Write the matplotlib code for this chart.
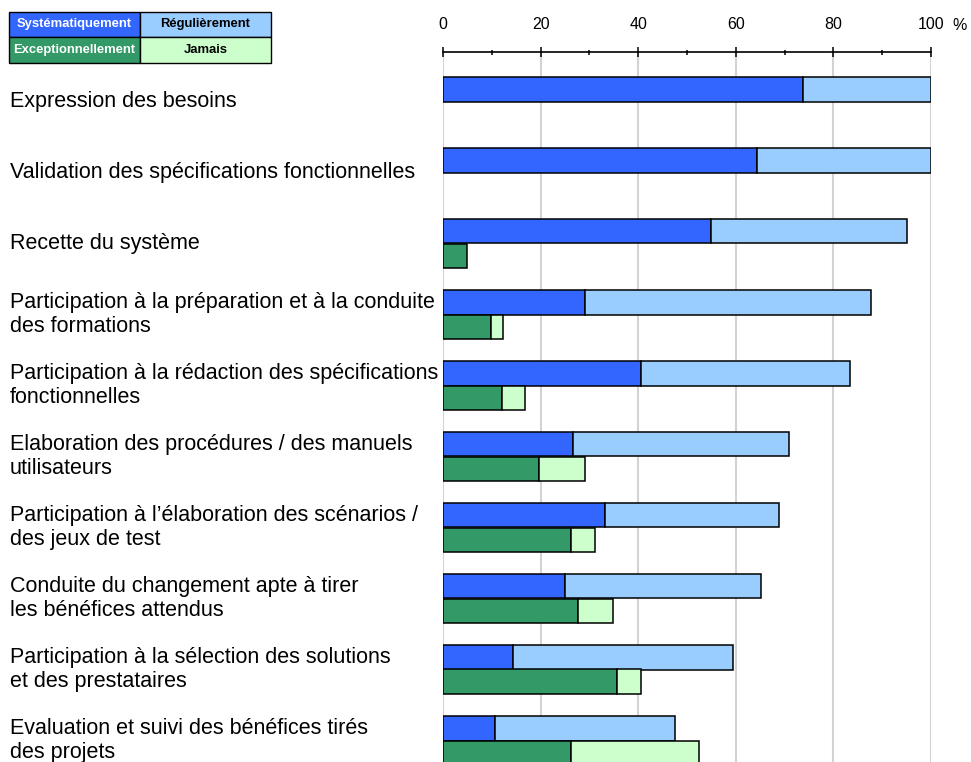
import matplotlib
matplotlib.use("Agg")
import matplotlib.pyplot as plt
import matplotlib.transforms as mtransforms
from matplotlib.patches import Rectangle
import numpy as np

plt.rcParams['font.family'] = ['Liberation Sans', 'DejaVu Sans']

categories = [
    "Expression des besoins",
    "Validation des spécifications fonctionnelles",
    "Recette du système",
    "Participation à la préparation et à la conduite\ndes formations",
    "Participation à la rédaction des spécifications\nfonctionnelles",
    "Elaboration des procédures / des manuels\nutilisateurs",
    "Participation à l’élaboration des scénarios /\ndes jeux de test",
    "Conduite du changement apte à tirer\nles bénéfices attendus",
    "Participation à la sélection des solutions\net des prestataires",
    "Evaluation et suivi des bénéfices tirés\ndes projets",
]
systematiquement = [73.8, 64.4, 55.0, 29.0, 40.6, 26.6, 33.2, 24.9, 14.3, 10.6]
regulierement = [26.2, 35.6, 40.1, 58.7, 42.7, 44.4, 35.7, 40.3, 45.2, 37.0]
exceptionnellement = [0, 0, 4.9, 9.8, 12.0, 19.7, 26.2, 27.6, 35.7, 26.2]
jamais = [0, 0, 0, 2.5, 4.8, 9.4, 5.0, 7.2, 4.9, 26.3]
series_names = ["Systématiquement", "Régulièrement", "Exceptionnellement", "Jamais"]
tick_values = [0, 20, 40, 60, 80, 100]

c_syst = "#3366FF"
c_reg = "#99CCFF"
c_exc = "#339966"
c_jam = "#CCFFCC"

W, H = 971, 762
fig = plt.figure(figsize=(W / 100, H / 100), dpi=100)

ax_left, ax_right = 443, 931
ax_top, ax_bottom = 52, 762
ax = fig.add_axes([ax_left / W, 1 - ax_bottom / H, (ax_right - ax_left) / W, (ax_bottom - ax_top) / H])

pitch = 71.0
first_center = 101.5
h = 0.345
y = np.arange(len(categories))
ax.set_ylim((ax_bottom - first_center) / pitch, -(first_center - ax_top) / pitch)
ax.set_xlim(0, 100)

def draw(ypos, left, width, color):
    ypos = np.asarray(ypos); left = np.asarray(left, float); width = np.asarray(width, float)
    m = width > 0
    ax.barh(ypos[m], width[m], left=left[m], height=h, color=color,
            edgecolor="black", linewidth=1.1, zorder=3)

s = np.array(systematiquement, float)
r = np.array(regulierement, float)
e = np.array(exceptionnellement, float)
j = np.array(jamais, float)
draw(y - h / 2, np.zeros_like(s), s, c_syst)
draw(y - h / 2, s, r, c_reg)
draw(y + h / 2, np.zeros_like(e), e, c_exc)
draw(y + h / 2, e, j, c_jam)

for sp in ["bottom", "left", "right"]:
    ax.spines[sp].set_visible(False)
ax.spines["top"].set_linewidth(1.2)
ax.xaxis.tick_top()
ax.set_xticks(tick_values)
ax.set_xticklabels([str(v) for v in tick_values])
ax.set_xticks([10, 30, 50, 70, 90], minor=True)
ax.tick_params(axis="x", which="major", direction="inout", length=6.5, width=1.1,
               labelsize=11.5, pad=11)
ax.tick_params(axis="x", which="minor", direction="inout", length=3.6, width=1.1)
ax.set_yticks([])
ax.grid(axis="x", which="major", color="#d3d3d3", linewidth=1.5, zorder=0)
ax.set_axisbelow(True)

tr = mtransforms.blended_transform_factory(ax.transData, fig.transFigure)
ax.text(100 + (960 - ax_right) / 4.88, 1 - 25 / H, "%", transform=tr,
        ha="center", va="center", fontsize=11.5)

# category labels
trl = mtransforms.blended_transform_factory(fig.transFigure, ax.transData)
for i, lab in enumerate(categories):
    ax.text(10 / W, y[i], lab, transform=trl, ha="left", va="center",
            fontsize=15.5, linespacing=1.17, clip_on=False)

# legend table
cells = [
    (9, 12, 131, 25, c_syst, "white", series_names[0]),
    (140, 12, 131, 25, c_reg, "black", series_names[1]),
    (9, 37, 131, 26, c_exc, "white", series_names[2]),
    (140, 37, 131, 26, c_jam, "black", series_names[3]),
]
for (x0, y0, w, hh, fc, tc, txt) in cells:
    fig.add_artist(Rectangle((x0 / W, 1 - (y0 + hh) / H), w / W, hh / H,
                             transform=fig.transFigure, facecolor=fc,
                             edgecolor="black", linewidth=1.0))
    fig.text((x0 + w / 2) / W, 1 - (y0 + hh / 2) / H, txt, ha="center", va="center",
             color=tc, fontsize=9.4, fontweight="bold")

fig.savefig("out.png", dpi=100)
